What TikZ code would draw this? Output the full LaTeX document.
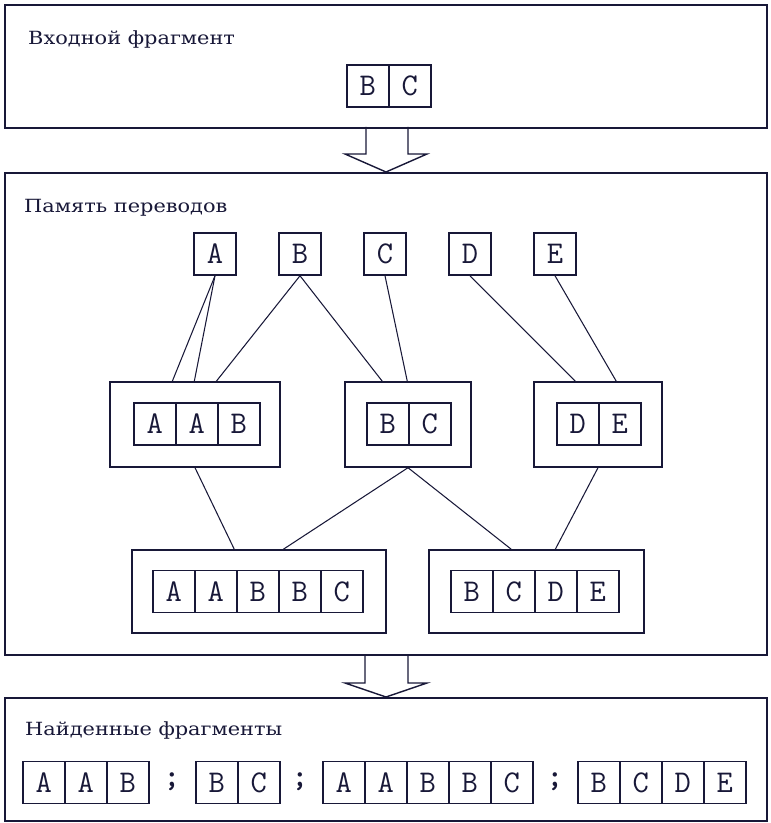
\documentclass[tikz,border=0pt]{standalone}
\usepackage{fontspec}
\setmainfont{DejaVu Serif}
\newfontfamily\lblfont[FakeStretch=1.15]{DejaVu Serif}
\usetikzlibrary{calc,positioning}

\definecolor{ink}{RGB}{24,24,56}

\tikzset{
	panel/.style={draw=ink, line width=1.6pt, anchor=north west, inner sep=0pt, minimum width=22.86cm},
	frame/.style={draw=ink, line width=1.2pt, inner sep=0pt},
	cell/.style={draw=ink, line width=1.3pt, inner sep=0pt, minimum width=1.26cm, minimum height=1.26cm,
		text=ink, font=\ttfamily\fontsize{27}{27}\selectfont},
	semi/.style={inner sep=0pt, text=ink, font=\ttfamily\bfseries\fontsize{27}{27}\selectfont},
	lbl/.style={anchor=base west, inner sep=0pt, text=ink, font=\lblfont\fontsize{15.5}{16}\selectfont},
	link/.style={draw=ink, line width=0.9pt},
	blockarrow/.style={draw=ink, line width=1.2pt, fill=white, line join=miter},
}

% a row of letter cells: name, left x, centre y, letters
\newcommand\cellrow[4]{%
	\foreach \ch [count=\i] in {#4}
		\node[cell, anchor=west] (#1\i) at ({#2+42*(\i-1)}, #3) {\ch};
}

\begin{document}
\begin{tikzpicture}[x=0.03cm, y=-0.03cm]
		%%%%% START %%%%%
		\useasboundingbox (0,0) rectangle (770,823);
		
		% arrows between the panels
		\draw[blockarrow] (366,127) -- (366,154) -- (345,154) -- (386,172) -- (427,154) -- (408,154) -- (408,127);
		\draw[blockarrow] (365,654) -- (365,683) -- (345,683) -- (386,697) -- (427,683) -- (408,683) -- (408,654);
		
		% panels
		\node[panel, minimum height=3.69cm] (pIn) at (4,4) {};
		\node[panel, minimum height=14.46cm] (pMem) at (4,172) {};
		\node[panel, minimum height=3.69cm] (pOut) at (4,697) {};
		
		\node[lbl] (tIn) at (28,45) {Входной фрагмент};
		\node[lbl] (tMem) at (24,213) {Память переводов};
		\node[lbl] (tOut) at (25,735) {Найденные фрагменты};
		
		% input fragment
		\cellrow{in}{346}{86}{B,C}
		
		% memory: single letters
		\foreach \ch [count=\i from 0] in {A,B,C,D,E}
			\node[cell] (l\ch) at ({215+85*\i}, 254) {\ch};
		
		% memory: second level
		\node[frame, minimum width=5.1cm, minimum height=2.55cm] (mAAB) at (195,424.5) {};
		\node[frame, minimum width=3.78cm, minimum height=2.55cm] (mBC) at (408,424.5) {};
		\node[frame, minimum width=3.84cm, minimum height=2.55cm] (mDE) at (598,424.5) {};
		\cellrow{mAAB}{133}{424}{A,A,B}
		\cellrow{mBC}{366}{424}{B,C}
		\cellrow{mDE}{556}{424}{D,E}
		
		% memory: third level
		\node[frame, minimum width=7.62cm, minimum height=2.49cm] (gAABBC) at (259,591.5) {};
		\node[frame, minimum width=6.45cm, minimum height=2.49cm] (gBCDE) at (536.5,591.5) {};
		\cellrow{gAABBC}{152}{591.5}{A,A,B,B,C}
		\cellrow{gBCDE}{450}{591.5}{B,C,D,E}
		
		% links
		\draw[link] (lA.south) -- ($(mAAB.north west)+(63,0)$);
		\draw[link] (lA.south) -- ($(mAAB.north west)+(85,0)$);
		\draw[link] (lB.south) -- ($(mAAB.north west)+(107,0)$);
		\draw[link] (lB.south) -- ($(mBC.north west)+(38,0)$);
		\draw[link] (lC.south) -- ($(mBC.north west)+(63,0)$);
		\draw[link] (lD.south) -- ($(mDE.north west)+(42,0)$);
		\draw[link] (lE.south) -- ($(mDE.north west)+(83,0)$);
		
		\draw[link] (mAAB.south) -- ($(gAABBC.north west)+(103,0)$);
		\draw[link] (mBC.south) -- ($(gAABBC.north west)+(152,0)$);
		\draw[link] (mBC.south) -- ($(gBCDE.north west)+(83,0)$);
		\draw[link] (mDE.south) -- ($(gBCDE.north west)+(127,0)$);
		
		% found fragments
		\cellrow{fa}{22}{782.5}{A,A,B}
		\node[semi] (s1) at (172,782) {;};
		\cellrow{fb}{195}{782.5}{B,C}
		\node[semi] (s2) at (300,782) {;};
		\cellrow{fc}{322}{782.5}{A,A,B,B,C}
		\node[semi] (s3) at (555,782) {;};
		\cellrow{fd}{577}{782.5}{B,C,D,E}
		
		%%%%% END %%%%%
	\end{tikzpicture}
\end{document}
